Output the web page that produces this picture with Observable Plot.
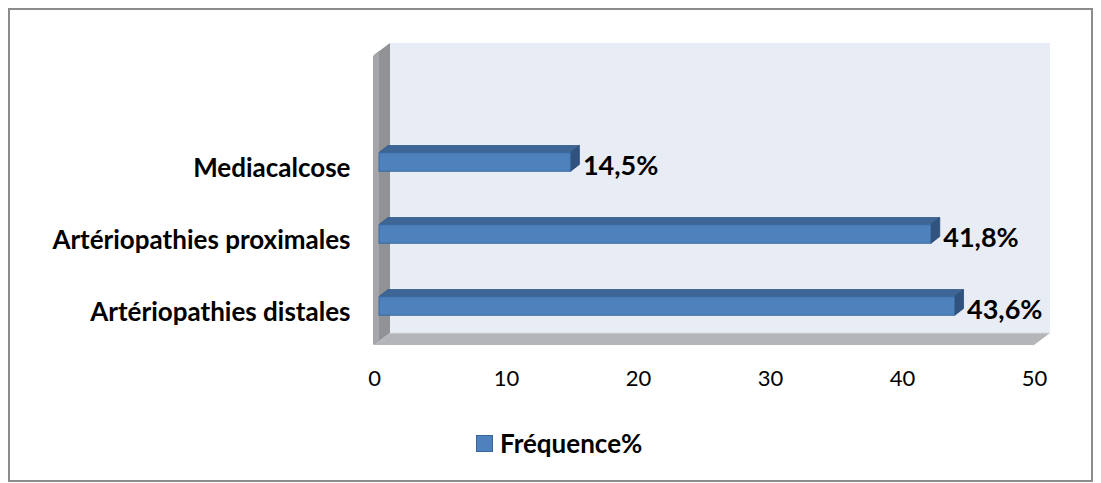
<!DOCTYPE html>
<html><head><meta charset="utf-8">
<script src="https://cdn.jsdelivr.net/npm/d3@7"></script>
<script src="https://cdn.jsdelivr.net/npm/@observablehq/plot@0.6"></script>
<style>
body{margin:0;background:#fff;font-family:Lato, "Open Sans", sans-serif;}
#frame{position:absolute;left:8px;top:8px;width:1081px;height:470px;border:2px solid #8c8c8c;}
#chart{position:absolute;left:0;top:0;}
#legend{position:absolute;left:476px;top:428px;height:30px;display:flex;align-items:center;font-weight:bold;font-size:26px;color:#000;}
#legend .sw{width:15px;height:15px;background:#4f81bd;border:1px solid #3a6497;margin-right:7px;}
</style></head>
<body>
<div id="frame"></div>
<div id="chart"></div>
<div id="legend"></div>
<script>
// ---- data ----
const categories = ["Mediacalcose", "Artériopathies proximales", "Artériopathies distales"];
const values = [14.5, 41.8, 43.6];
const valueLabels = ["14,5%", "41,8%", "43,6%"];
const xTicks = [0, 10, 20, 30, 40, 50];
const xDomain = [0, 50];
const seriesName = "Fréquence%";

const rows = categories.map((c, i) => ({cat: c, value: values[i], label: valueLabels[i]}));
const yDomain = ["", ...categories];

// 3D geometry (pixels)
const WALL = {dx: 16, dy: -12};
const BAR = {dx: 9, dy: -7, h: 19, shiftX: 5, shiftY: -2};

function walls(index, scales, vals, dims) {
  const x = scales.x;
  const x0 = x(xDomain[0]), x1 = x(xDomain[1]);
  const yT = dims.marginTop, yB = dims.height - dims.marginBottom;
  const g = d3.create("svg:g");
  const pts = a => a.map(p => p.join(",")).join(" ");
  // back wall
  g.append("polygon").attr("points", pts([[x0 + WALL.dx, yT + WALL.dy], [x1 + WALL.dx, yT + WALL.dy], [x1 + WALL.dx, yB + WALL.dy], [x0 + WALL.dx, yB + WALL.dy]]))
    .attr("fill", "#e8ecf4");
  // left side wall
  g.append("polygon").attr("points", pts([[x0, yT], [x0 + WALL.dx, yT + WALL.dy], [x0 + WALL.dx, yB + WALL.dy], [x0, yB]]))
    .attr("fill", "#909296");
  g.append("polygon").attr("points", pts([[x0 - 1, yT + 1], [x0 + 5, yT - 4], [x0 + 5, yB - 4], [x0 - 1, yB]]))
    .attr("fill", "#a4a6a9");
  // floor
  g.append("polygon").attr("points", pts([[x0, yB], [x1, yB], [x1 + WALL.dx, yB + WALL.dy], [x0 + WALL.dx, yB + WALL.dy]]))
    .attr("fill", "#b3b5b9");
  g.append("line").attr("x1", x0 + WALL.dx).attr("x2", x1 + WALL.dx).attr("y1", yB + WALL.dy).attr("y2", yB + WALL.dy)
    .attr("stroke", "#d6d9de").attr("stroke-width", 1);
  return g.node();
}

function barFaces(index, scales, vals, dims) {
  const {x, y} = scales;
  const g = d3.create("svg:g");
  const pts = a => a.map(p => p.join(",")).join(" ");
  for (const r of rows) {
    const xl = x(0) + BAR.shiftX, xr = x(r.value) + BAR.shiftX;
    const yc = y(r.cat) + y.bandwidth() / 2 + BAR.shiftY;
    const yt = yc - BAR.h / 2, yb = yc + BAR.h / 2;
    g.append("polygon").attr("points", pts([[xl, yt], [xr, yt], [xr + BAR.dx, yt + BAR.dy], [xl + BAR.dx, yt + BAR.dy]]))
      .attr("fill", "#3d6596").attr("stroke", "#335a88").attr("stroke-width", 0.8);
    g.append("polygon").attr("points", pts([[xr, yt], [xr + BAR.dx, yt + BAR.dy], [xr + BAR.dx, yb + BAR.dy], [xr, yb]]))
      .attr("fill", "#30527e").attr("stroke", "#2c4c76").attr("stroke-width", 0.8);
  }
  return g.node();
}

const H = 420;
const band = (345 - 55) / yDomain.length;
const inset = (band - BAR.h) / 2;

const chart = Plot.plot({
  width: 1101,
  height: H,
  marginLeft: 374,
  marginRight: 67,
  marginTop: 55,
  marginBottom: H - 345,
  style: {fontFamily: "Lato, 'Open Sans', sans-serif", color: "#000", background: "transparent", overflow: "visible"},
  x: {domain: xDomain},
  y: {domain: yDomain, padding: 0},
  marks: [
    walls,
    barFaces,
    Plot.barX(rows, {x: "value", y: "cat", fill: "#4f81bd", stroke: "#3a6a9f", strokeWidth: 1,
      insetTop: inset, insetBottom: inset, dx: BAR.shiftX, dy: BAR.shiftY}),
    Plot.text(rows, {x: "value", y: "cat", text: "label", textAnchor: "start", dx: BAR.shiftX + BAR.dx + 3, dy: 2,
      fontSize: 27, fontWeight: "bold", fill: "#000"}),
    Plot.axisY(categories, {tickSize: 0, tickPadding: 24, fontSize: 26, fontWeight: "bold", dy: 4, label: null, fill: "#000"}),
    Plot.axisX(xTicks, {tickSize: 0, tickPadding: 25, fontSize: 22, label: null, fill: "#000"})
  ]
});
document.getElementById("chart").appendChild(chart);

const lg = document.getElementById("legend");
const sw = document.createElement("div"); sw.className = "sw"; lg.appendChild(sw);
const tx = document.createElement("span"); tx.textContent = seriesName; lg.appendChild(tx);
</script>
</body></html>
